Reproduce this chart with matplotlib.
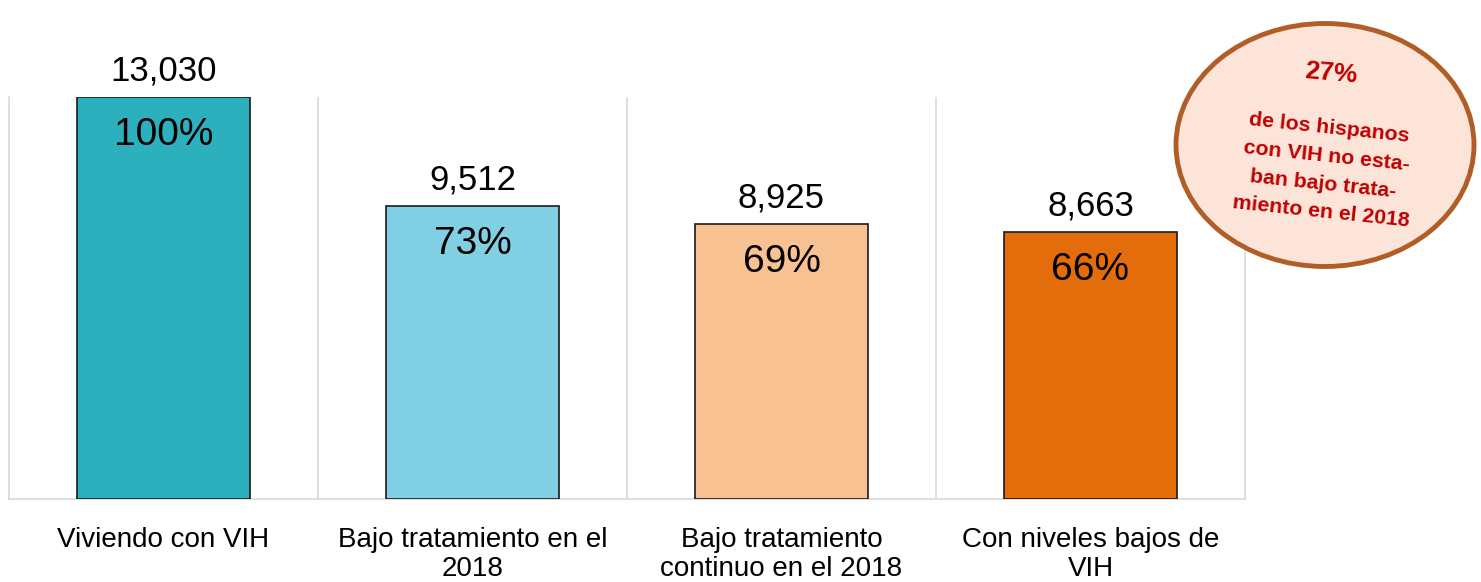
import numpy as np
import matplotlib.pyplot as plt
from matplotlib.patches import Ellipse

categories = ["Viviendo con VIH", "Bajo tratamiento en el\n2018",
              "Bajo tratamiento\ncontinuo en el 2018", "Con niveles bajos de\nVIH"]
counts = np.array([13030, 9512, 8925, 8663])
percents = ["100%", "73%", "69%", "66%"]
colors = ["#2DB0BE", "#80CFE2", "#F8C191", "#E36C0B"]

plt.rcParams['font.family'] = ['Liberation Sans', 'DejaVu Sans']

fig = plt.figure(figsize=(14.81, 5.82), dpi=100)
ax = fig.add_axes([0.0061, 0.1426, 0.8345, 0.6907])

x = np.arange(len(categories))
ax.bar(x, counts, width=0.56, color=colors, edgecolor="#1a1a1a", linewidth=1.2, zorder=3)

for xi, c, p in zip(x, counts, percents):
    ax.text(xi, c + 300, f"{c:,}", ha="center", va="bottom", fontsize=25)
    ax.text(xi, c - 650, p, ha="center", va="top", fontsize=28)

ax.set_xlim(-0.5, len(categories) - 0.5)
ax.set_ylim(0, 13030)
ax.set_yticks([])
ax.set_xticks(x)
ax.set_xticklabels(categories, fontsize=20, linespacing=1.15)
ax.tick_params(axis="x", length=0, pad=20)
ax.set_xticks(x[:-1] + 0.5, minor=True)
ax.tick_params(axis="x", which="minor", length=0)
ax.grid(axis="x", which="minor", color="#d9d9d9", linewidth=1.2, zorder=0)
ax.spines["top"].set_visible(False)
for s in ["left", "right", "bottom"]:
    ax.spines[s].set_color("#d9d9d9")
    ax.spines[s].set_linewidth(1.2)

# callout circle
fig.patches.append(Ellipse((1325 / 1481, 1 - 145 / 582), 298 / 1481, 243 / 582,
                           transform=fig.transFigure, facecolor="#FCE4D8",
                           edgecolor="#B05E27", linewidth=3.5))
fig.text(1331 / 1481, 1 - 73 / 582, "27%", ha="center", va="center",
         fontsize=19, fontweight="bold", color="#C00000", rotation=-5)
fig.text(1325 / 1481, 1 - 170 / 582,
         "de los hispanos\ncon VIH no esta-\nban bajo trata-\nmiento en el 2018",
         ha="center", va="center", fontsize=15.3, fontweight="bold",
         color="#C00000", rotation=-6, linespacing=1.6)

fig.savefig("out.png", dpi=100)
